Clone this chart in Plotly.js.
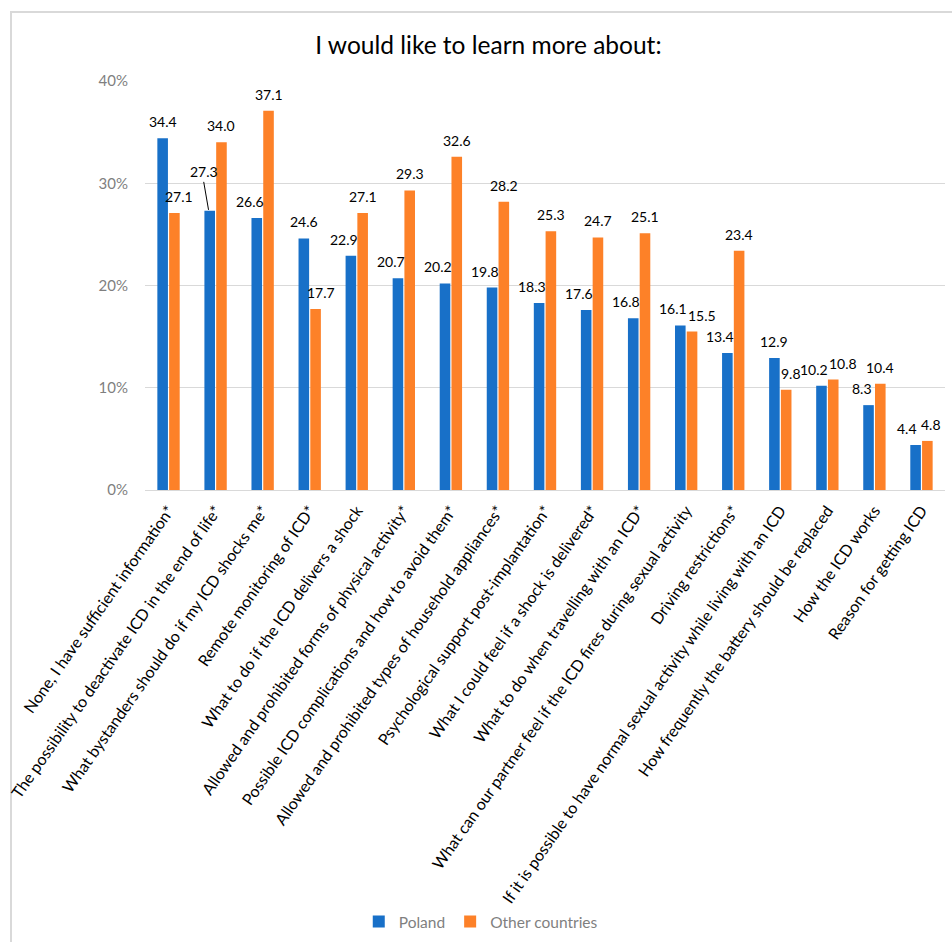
<!DOCTYPE html>
<html>
<head>
<meta charset="utf-8">
<script src="https://cdn.plot.ly/plotly-3.0.1.min.js"></script>
<style>
  html, body { margin: 0; padding: 0; background: #ffffff; }
  #wrap { position: relative; width: 952px; height: 942px; overflow: hidden; }
  #frame { position: absolute; left: 10px; top: 11px; width: 960px; height: 960px;
           border-left: 2px solid #d9d9d9; border-top: 2px solid #d9d9d9; pointer-events: none; }
  #chart { position: absolute; left: 0; top: 0; width: 952px; height: 942px; }
</style>
</head>
<body>
<div id="wrap">
  <div id="frame"></div>
  <div id="chart"></div>
</div>
<script>
const categories = [
  "None, I have sufficient information*",
  "The possibility to deactivate ICD in the end of life*",
  "What bystanders should do if my ICD shocks me*",
  "Remote monitoring of ICD*",
  "What to do if the ICD delivers a shock",
  "Allowed and prohibited forms of physical activity*",
  "Possible ICD complications and how to avoid them*",
  "Allowed and prohibited types of household appliances*",
  "Psychological support post-implantation*",
  "What I could feel if a shock is delivered*",
  "What to do when travelling with an ICD*",
  "What can our partner feel if the ICD fires during sexual activity",
  "Driving restrictions*",
  "If it is possible to have normal sexual activity while living with an ICD",
  "How frequently the battery should be replaced",
  "How the ICD works",
  "Reason for getting ICD"
];
const poland = [34.4, 27.3, 26.6, 24.6, 22.9, 20.7, 20.2, 19.8, 18.3, 17.6, 16.8, 16.1, 13.4, 12.9, 10.2, 8.3, 4.4];
const otherCountries = [27.1, 34.0, 37.1, 17.7, 27.1, 29.3, 32.6, 28.2, 25.3, 24.7, 25.1, 15.5, 23.4, 9.8, 10.8, 10.4, 4.8];
const seriesNames = ["Poland", "Other countries"];
const yTicks = [0, 10, 20, 30, 40];

const FONT = "Lato, 'Open Sans', 'Liberation Sans', sans-serif";
const COLORS = ["#1870c8", "#fd8128"];

// layout geometry
const W = 952, H = 942;
const M = { l: 145, r: 7, t: 81, b: 452 };
const BARGAP = 0.5, BARGROUPGAP = 0.1;
const catPx = (W - M.l - M.r) / categories.length;
const slotPx = catPx * (1 - BARGAP) / 2;
const barCenterOffset = slotPx / 2;   // px offset of each bar centre from the category centre

const data = [
  { type: "bar", name: seriesNames[0], x: categories, y: poland, marker: { color: COLORS[0] }, hoverinfo: "x+y" },
  { type: "bar", name: seriesNames[1], x: categories, y: otherCountries, marker: { color: COLORS[1] }, hoverinfo: "x+y" }
];

// data labels (placed like Excel: nudged away from a taller neighbouring bar)
const labelFont = { family: FONT, size: 14, color: "#000000" };
const annotations = [];
categories.forEach((c, i) => {
  const p = poland[i], o = otherCountries[i];
  const pText = p.toFixed(1), oText = o.toFixed(1);
  const close = Math.abs(p - o) < 1.5;
  let pShift = (o > p) ? -7 : 0;
  let oShift = (p > o) ? 5 : 0;
  if (close) {
    const wide = (pText.length + oText.length) > 6;
    pShift = wide ? -7 : -9;
    oShift = wide ? 10 : 4;
  }
  const pAnn = {
    x: c, y: p, xref: "x", yref: "y",
    text: pText, font: labelFont,
    showarrow: false, xanchor: "center", yanchor: "bottom",
    xshift: -barCenterOffset + pShift, yshift: 6
  };
  if (i === 1) {
    // label lifted with a leader line, as in the original
    Object.assign(pAnn, {
      showarrow: true, arrowhead: 0, arrowwidth: 1, arrowcolor: "#000000",
      ax: -5, ay: -29, standoff: 1, startstandoff: 0,
      xshift: -barCenterOffset - 1, yshift: 0, yanchor: "bottom"
    });
  }
  annotations.push(pAnn);
  annotations.push({
    x: c, y: o, xref: "x", yref: "y",
    text: oText, font: labelFont,
    showarrow: false, xanchor: "center", yanchor: "bottom",
    xshift: barCenterOffset + oShift, yshift: 6
  });
});

const layout = {
  width: W,
  height: H,
  paper_bgcolor: "rgba(0,0,0,0)",
  plot_bgcolor: "rgba(0,0,0,0)",
  margin: { l: M.l, r: M.r, t: M.t, b: M.b, autoexpand: false },
  font: { family: FONT, color: "#000000" },
  title: {
    text: "I would like to learn more about:",
    font: { family: FONT, size: 24.5, color: "#000000" },
    xref: "container", x: 0.513, xanchor: "center",
    yref: "container", y: 1 - 45 / H, yanchor: "middle"
  },
  barmode: "group",
  bargap: BARGAP,
  bargroupgap: BARGROUPGAP,
  xaxis: {
    type: "category",
    tickangle: -55,
    tickfont: { family: FONT, size: 16, color: "#000000" },
    showgrid: false,
    showline: true,
    linecolor: "#d9d9d9",
    linewidth: 1,
    ticks: "outside",
    ticklen: 4,
    tickcolor: "rgba(0,0,0,0)",
    automargin: false
  },
  yaxis: {
    range: [0, 40],
    tickvals: yTicks,
    ticktext: yTicks.map(v => v + "%"),
    tickfont: { family: FONT, size: 15, color: "#7f7f7f" },
    showgrid: true,
    gridcolor: "#d9d9d9",
    gridwidth: 1,
    zeroline: false,
    showline: false,
    ticks: "outside",
    ticklen: 13,
    tickcolor: "rgba(0,0,0,0)",
    automargin: false
  },
  annotations: annotations,
  showlegend: true,
  legend: {
    orientation: "h",
    xref: "container", x: 0.505, xanchor: "center",
    yref: "container", y: 1 - 922 / H, yanchor: "middle",
    font: { family: FONT, size: 15.5, color: "#7f7f7f" },
    itemwidth: 30,
    traceorder: "normal"
  }
};

Plotly.newPlot("chart", data, layout, { displayModeBar: false, staticPlot: true });
</script>
</body>
</html>
